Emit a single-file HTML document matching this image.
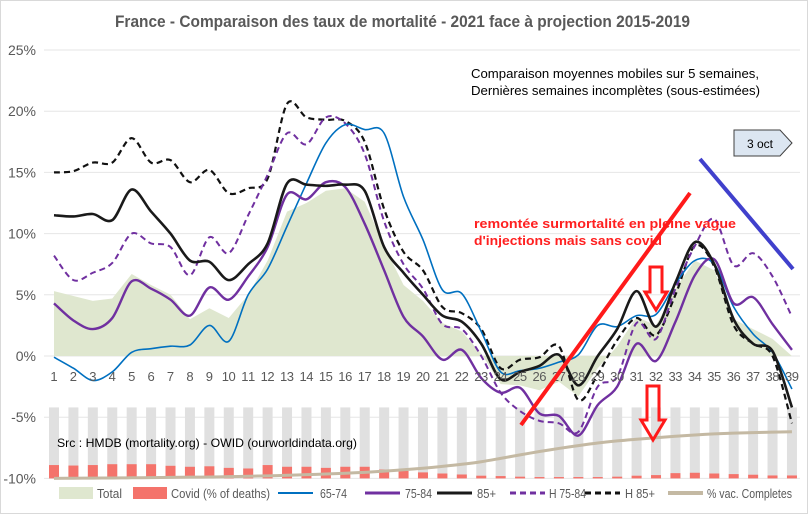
<!DOCTYPE html>
<html><head><meta charset="utf-8"><style>
body{margin:0;background:#fff}
svg{display:block;font-family:"Liberation Sans",sans-serif}
</style></head><body>
<svg id="chart" width="808" height="514" viewBox="0 0 808 514">
<rect x="0.5" y="0.5" width="807" height="513" fill="#fff" stroke="#d9d9d9"/>
<text x="115" y="27" textLength="575" lengthAdjust="spacingAndGlyphs" font-size="17" font-weight="bold" fill="#595959">France - Comparaison des taux de mortalité - 2021 face à projection 2015-2019</text>
<g id="grid"></g><g id="bars"></g><g id="series"></g><g id="axes"></g>
<text x="471" y="78" textLength="288" lengthAdjust="spacingAndGlyphs" font-size="13" fill="#000">Comparaison moyennes mobiles sur 5 semaines,</text>
<text x="471" y="95" textLength="289" lengthAdjust="spacingAndGlyphs" font-size="13" fill="#000">Dernières semaines incomplètes (sous-estimées)</text>
<g><path d="M734,130 H780 L792,143 L780,156 H734 Z" fill="#dce6f1" stroke="#404040"/><text x="760" y="148" text-anchor="middle" font-size="12" fill="#000">3 oct</text></g>
<text x="474" y="228" textLength="262" lengthAdjust="spacingAndGlyphs" font-size="13" font-weight="bold" fill="#ff2020">remontée surmortalité en pleine vague</text>
<text x="474" y="245" textLength="188" lengthAdjust="spacingAndGlyphs" font-size="13" font-weight="bold" fill="#ff2020">d'injections mais sans covid</text>
<line x1="521" y1="425" x2="690" y2="193" stroke="#ff1a1a" stroke-width="4"/>
<line x1="700" y1="159" x2="793" y2="269" stroke="#4040cc" stroke-width="4"/>
<path d="M650,267 h12 v25 h5 l-11,18 l-11,-18 h5 z" fill="none" stroke="#ff1a1a" stroke-width="3"/>
<path d="M647,386 h12 v34 h6 l-12,20 l-12,-20 h6 z" fill="none" stroke="#ff1a1a" stroke-width="3"/>
<text x="57" y="447" textLength="300" lengthAdjust="spacingAndGlyphs" font-size="12" fill="#000">Src : HMDB (mortality.org) - OWID (ourworldindata.org)</text>
<g id="legend"></g>
</svg>
<script>
const weeks=[];for(let i=1;i<=39;i++)weeks.push(i);
const yTicks=[25,20,15,10,5,0,-5,-10];
const total=[5.3,4.9,4.5,4.7,6.7,5.8,5.0,3.0,3.9,3.1,5.0,7.8,11.8,12.5,13.5,13.7,12.6,9.0,5.8,4.5,2.7,2.0,0.2,-2.3,-2.4,-2.8,-2.1,-3.3,-1.0,0.8,3.2,2.5,5.5,7.8,7.0,3.0,2.2,1.4,0];
const s6574=[-0.1,-1.0,-2.0,-1.3,0.3,0.6,0.8,0.9,2.5,1.2,5.0,7.1,10.6,14.1,17.4,18.9,18.5,18.2,13.0,9.5,5.4,5.1,2.0,-1.3,-1.2,-1.0,-0.5,0.1,2.5,2.4,3.3,3.4,5.9,7.8,7.5,4.0,1.8,0.3,-2.7];
const s7584=[4.3,2.9,2.2,3.1,6.1,5.5,4.6,3.3,5.6,4.6,6.5,8.9,13.2,12.8,14.2,13.8,10.8,7.0,3.2,1.6,-0.3,0.5,-1.8,-3.0,-2.6,-4.7,-4.9,-6.5,-4.0,-2.5,1.0,-0.4,2.8,6.6,7.9,4.3,4.8,2.6,0.5];
const s85=[11.5,11.4,11.6,11.1,13.6,11.8,10.0,7.8,7.7,6.2,7.5,9.2,14.1,14.0,13.9,14.0,13.5,8.9,6.8,5.0,3.3,2.8,1.0,-1.9,-1.3,-0.8,0.1,-2.4,0.0,2.2,5.3,2.4,6.0,9.3,7.5,3.0,1.0,0.4,-4.2];
const h7584=[8.2,6.2,6.8,7.6,10.0,9.2,8.9,6.6,9.7,8.4,11.5,14.8,18.2,17.3,19.5,19.0,16.5,11.0,7.5,5.5,2.6,2.2,0.0,-3.0,-4.5,-5.3,-5.5,-6.2,-2.5,-1.7,2.7,1.4,5.5,9.0,11.2,7.4,8.4,6.5,3.2];
const h85=[15.0,15.1,15.8,15.8,17.8,15.8,16.0,14.2,15.2,13.3,13.7,14.5,20.6,19.5,19.3,19.2,17.5,12.0,8.5,7.0,4.0,3.5,2.2,-1.0,-0.3,-0.1,0.8,-3.6,-1.5,1.3,3.1,1.7,5.0,9.0,7.3,2.5,1.0,0.0,-5.5];
const covidPct=[10.9,10.5,10.9,11.6,11.6,11.6,10.3,9.5,9.9,8.6,8.1,10.9,9.5,9.5,8.6,9.5,9.5,7.3,6.2,4.9,4.0,3.2,2.2,1.9,1.4,1.1,1.1,1.1,1.1,1.4,2.2,2.7,4.3,4.6,4.0,3.5,3.0,2.4,2.4];
const vacPct=[0,0.2,0.4,0.6,0.8,1,1.3,1.6,1.9,2.3,2.8,3.4,4.1,4.9,5.8,6.8,8.0,9.6,11.4,13.4,15.8,18.6,22.0,26.4,31.0,35.4,39.5,43.2,46.6,49.4,51.6,53.6,55.5,57.2,58.6,59.6,60.4,61.0,61.4];
const NS='http://www.w3.org/2000/svg';
const X=w=>54+(w-1)*19.42;
const Y=v=>356-v*12.24;
const covidToAxis=p=>-10+p*0.1;
const vacToAxis=p=>-10+p*0.062;
function mk(tag,attrs,parent){const e=document.createElementNS(NS,tag);for(const k in attrs)e.setAttribute(k,attrs[k]);parent.appendChild(e);return e;}
function smooth(pts){let d=`M${pts[0][0]},${pts[0][1]}`;for(let i=0;i<pts.length-1;i++){const p0=pts[i-1]||pts[i],p1=pts[i],p2=pts[i+1],p3=pts[i+2]||p2;const t=0.16;d+=` C${p1[0]+(p2[0]-p0[0])*t},${p1[1]+(p2[1]-p0[1])*t} ${p2[0]-(p3[0]-p1[0])*t},${p2[1]-(p3[1]-p1[1])*t} ${p2[0]},${p2[1]}`;}return d;}
const grid=document.getElementById('grid'),axes=document.getElementById('axes'),bars=document.getElementById('bars'),series=document.getElementById('series'),legend=document.getElementById('legend');
yTicks.forEach(t=>{
 const l=mk('line',{x1:44,x2:800,y1:Y(t),y2:Y(t),stroke:'#e6e6e6'},grid);
 
 
 const tx=mk('text',{x:36,y:Y(t)+5,'text-anchor':'end','font-size':14,fill:'#595959'},axes);
 tx.textContent=t+'%';
 
 
});
weeks.forEach(w=>{
 const tx=mk('text',{x:X(w),y:381,'text-anchor':'middle','font-size':13,fill:'#595959'},axes);
 tx.textContent=w;
 if(w>=10)tx.setAttribute('textLength','14');
 
 
});
let ad=`M${X(1)},${Y(0)}`;weeks.forEach((w,i)=>ad+=` L${X(w)},${Y(total[i])}`);ad+=` L${X(39)},${Y(0)} Z`;
const area=mk('path',{d:ad,fill:'#dfe7cf'},bars);


weeks.forEach((w,i)=>{
 const g=mk('rect',{x:X(w)-5,y:Y(-4.2),width:10,height:Y(-10)-Y(-4.2),fill:'#e0e0e0'},bars);
 
 
 const top=Y(covidToAxis(covidPct[i]));
 const r=mk('rect',{x:X(w)-5,y:top,width:10,height:Y(-10)-top,fill:'#f4736b'},bars);
 
 
});
function line(vals,color,dash,width,name,conv){
 const pts=weeks.map((w,i)=>[X(w),Y(conv?conv(vals[i]):vals[i])]);
 const p=mk('path',{d:smooth(pts),fill:'none',stroke:color,'stroke-width':width,'stroke-dasharray':dash||'none'},series);
 
 
}
line(vacPct,'#c4b9a3','',3,'vaccination-line',vacToAxis);
line(h85,'#111','6,4',2.2,'h85-line');
line(h7584,'#7030a0','6,4',2,'h75-84-line');
line(s6574,'#0070c0','',1.6,'line-65-74');
line(s7584,'#7030a0','',2.4,'line-75-84');
line(s85,'#1a1a1a','',2.6,'line-85-plus');
const leg=[['Total','area','#dfe7cf',59,97,25],['Covid (% of deaths)','area','#f4736b',133,171,99],['65-74','line','#0070c0',278,320,27],['75-84','line','#7030a0',365,405,27],['85+','line','#1a1a1a',437,477,19],['H 75-84','dash','#7030a0',510,549,37],['H 85+','dash','#111',585,625,30],['% vac. Completes','line','#c4b9a3',668,707,85]];
leg.forEach(([lab,kind,c,x0,tx,tw])=>{
 if(kind==='area'){const r=mk('rect',{x:x0,y:487,width:34,height:12,fill:c},legend);}
 else{const l=mk('line',{x1:x0,x2:x0+35,y1:493,y2:493,stroke:c,'stroke-width':lab.startsWith('%')?4:(lab==='65-74'?2:3),'stroke-dasharray':kind==='dash'?'6,4':'none'},legend);}
 const t=mk('text',{x:tx,y:498,'font-size':13,fill:'#595959',textLength:tw,lengthAdjust:'spacingAndGlyphs'},legend);t.textContent=lab;
 
 
});
</script>
</body></html>
